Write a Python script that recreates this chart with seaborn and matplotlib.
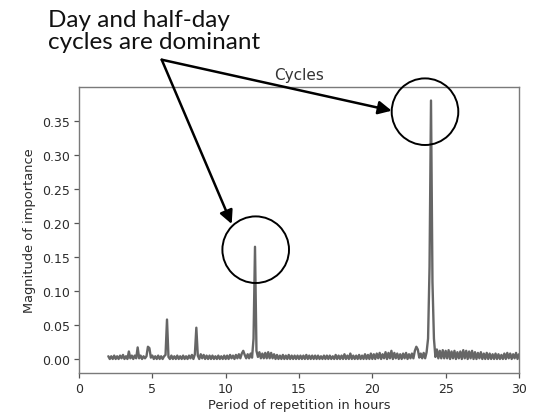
import matplotlib
matplotlib.use("Agg")
import matplotlib.pyplot as plt
from matplotlib.patches import Ellipse
import numpy as np
import pandas as pd
import seaborn as sns

# Spectral magnitude per repetition period, sampled every 0.1 h from 2 h to 30 h
period_start, period_step = 2.0, 0.1
magnitude = [
    # 2 h
    0.004, 0.000, 0.004, 0.000, 0.005, 0.000, 0.004, 0.000, 0.005, 0.001,
    # 3 h
    0.006, 0.000, 0.004, 0.000, 0.011, 0.001, 0.005, 0.000, 0.005, 0.001,
    # 4 h
    0.017, 0.001, 0.005, 0.000, 0.004, 0.001, 0.004, 0.018, 0.016, 0.002,
    # 5 h
    0.005, 0.000, 0.004, 0.000, 0.005, 0.000, 0.004, 0.000, 0.004, 0.006,
    # 6 h
    0.058, 0.003, 0.000, 0.005, 0.000, 0.004, 0.000, 0.005, 0.000, 0.004,
    # 7 h
    0.000, 0.005, 0.000, 0.004, 0.000, 0.005, 0.001, 0.006, 0.000, 0.007,
    # 8 h
    0.046, 0.005, 0.000, 0.007, 0.001, 0.006, 0.000, 0.005, 0.000, 0.005,
    # 9 h
    0.000, 0.005, 0.000, 0.004, 0.000, 0.005, 0.000, 0.004, 0.000, 0.005,
    # 10 h
    0.000, 0.005, 0.000, 0.006, 0.001, 0.005, 0.000, 0.006, 0.001, 0.007,
    # 11 h
    0.001, 0.008, 0.012, 0.006, 0.001, 0.007, 0.001, 0.008, 0.002, 0.030,
    # 12 h
    0.165, 0.012, 0.003, 0.010, 0.001, 0.008, 0.001, 0.009, 0.001, 0.010,
    # 13 h
    0.001, 0.009, 0.001, 0.007, 0.000, 0.006, 0.000, 0.005, 0.000, 0.006,
    # 14 h
    0.000, 0.005, 0.000, 0.006, 0.000, 0.005, 0.000, 0.005, 0.000, 0.005,
    # 15 h
    0.000, 0.005, 0.000, 0.005, 0.000, 0.006, 0.000, 0.005, 0.000, 0.005,
    # 16 h
    0.000, 0.005, 0.000, 0.005, 0.000, 0.004, 0.000, 0.005, 0.000, 0.005,
    # 17 h
    0.000, 0.005, 0.000, 0.004, 0.000, 0.006, 0.000, 0.005, 0.000, 0.005,
    # 18 h
    0.000, 0.007, 0.000, 0.005, 0.000, 0.008, 0.000, 0.005, 0.000, 0.005,
    # 19 h
    0.000, 0.006, 0.000, 0.005, 0.000, 0.007, 0.000, 0.006, 0.000, 0.008,
    # 20 h
    0.000, 0.007, 0.000, 0.008, 0.001, 0.009, 0.000, 0.007, 0.001, 0.010,
    # 21 h
    0.000, 0.009, 0.001, 0.012, 0.000, 0.009, 0.001, 0.008, 0.000, 0.007,
    # 22 h
    0.000, 0.008, 0.001, 0.009, 0.000, 0.007, 0.001, 0.008, 0.001, 0.012,
    # 23 h
    0.018, 0.014, 0.002, 0.008, 0.001, 0.009, 0.001, 0.010, 0.030, 0.135,
    # 24 h
    0.380, 0.113, 0.030, 0.003, 0.014, 0.001, 0.012, 0.001, 0.013, 0.001,
    # 25 h
    0.012, 0.001, 0.013, 0.000, 0.011, 0.001, 0.012, 0.000, 0.010, 0.001,
    # 26 h
    0.011, 0.000, 0.013, 0.001, 0.012, 0.000, 0.011, 0.001, 0.012, 0.000,
    # 27 h
    0.010, 0.000, 0.009, 0.001, 0.010, 0.000, 0.008, 0.000, 0.009, 0.000,
    # 28 h
    0.008, 0.000, 0.007, 0.000, 0.008, 0.000, 0.007, 0.000, 0.006, 0.000,
    # 29 h
    0.008, 0.000, 0.009, 0.001, 0.008, 0.000, 0.007, 0.001, 0.009, 0.000,
    # 30 h
    0.007,
]
period = period_start + period_step * np.arange(len(magnitude))

x_ticks = [0, 5, 10, 15, 20, 25, 30]
y_ticks = [0.00, 0.05, 0.10, 0.15, 0.20, 0.25, 0.30, 0.35]

df = pd.DataFrame({"period": period, "magnitude": magnitude})

sns.set_style("white")
plt.rcParams["font.family"] = ["DejaVu Sans"]

W, H = 539, 414
fig = plt.figure(figsize=(W / 100, H / 100), dpi=100)
ax = fig.add_axes([79 / W, 1 - 374 / H, 440 / W, 286 / H])

sns.lineplot(data=df, x="period", y="magnitude", ax=ax,
             color="#666666", linewidth=1.7)

ax.set_xlim(0, 30)
ax.set_ylim(-0.0206, 0.3999)
ax.set_xticks(x_ticks)
ax.set_yticks(y_ticks)
ax.set_yticklabels([f"{v:.2f}" for v in y_ticks])
ax.tick_params(axis="both", direction="out", length=3.5, width=0.9,
               color="#555555", labelsize=9, labelcolor="#2b2b2b",
               bottom=True, left=True, pad=3)
for sp in ax.spines.values():
    sp.set_color("#7a7a7a")
    sp.set_linewidth(1.0)

ax.set_title("Cycles", fontsize=11, color="#333333", pad=6)
ax.set_xlabel("Period of repetition in hours", fontsize=9.4, color="#2b2b2b",
              labelpad=2)
ax.set_ylabel("Magnitude of importance", fontsize=9.4, color="#2b2b2b",
              labelpad=4)

# Callout: text, arrows and circles placed in figure pixel coordinates
def fp(x, y):
    return (x, H - y)

for line, base in (("Day and half-day", 27), ("cycles are dominant", 49)):
    fig.text(48 / W, 1 - base / H, line, fontsize=17.5, family="Lato",
             color="#111111", ha="left", va="baseline")

origin = fp(161.7, 60.7)
for tip in (fp(391.7, 111.7), fp(231.7, 225.0)):
    ax.annotate("", xy=tip, xycoords="figure pixels",
                xytext=origin, textcoords="figure pixels",
                arrowprops=dict(arrowstyle="-|>", mutation_scale=20,
                                lw=1.8, color="black",
                                shrinkA=0, shrinkB=0),
                annotation_clip=False)

r = 33.3
for cx, cy in ((425.0, 112.7), (255.7, 250.7)):
    fig.add_artist(Ellipse((cx / W, 1 - cy / H), 2 * r / W, 2 * r / H,
                           transform=fig.transFigure, fill=False,
                           edgecolor="black", lw=1.4, zorder=10))

fig.savefig("out.png", dpi=100)
